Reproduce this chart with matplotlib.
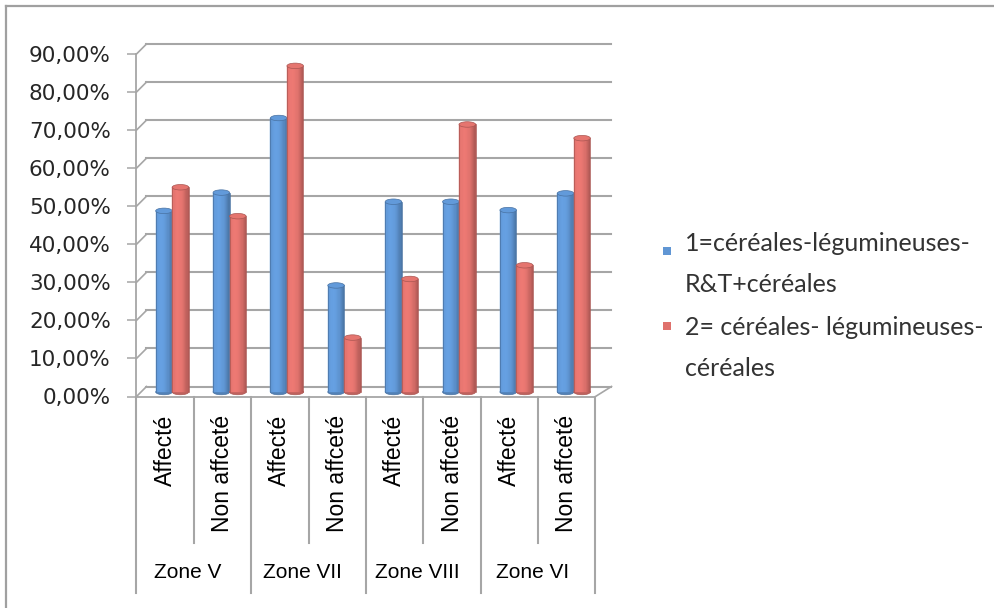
import numpy as np
import matplotlib.pyplot as plt
from matplotlib.patches import Ellipse, Rectangle
from matplotlib.lines import Line2D
from matplotlib.colors import to_rgb

# data
zones = ['Zone V', 'Zone VII', 'Zone VIII', 'Zone VI']
groups = ['Affecté', 'Non affceté']
serie1 = [47.6, 52.4, 72.0, 28.0, 50.0, 50.0, 47.8, 52.2]
serie2 = [53.8, 46.2, 85.7, 14.3, 29.7, 70.3, 33.3, 66.7]
legend_1 = ['1=céréales-légumineuses-', 'R&T+céréales']
legend_2 = ['2= céréales- légumineuses-', 'céréales']
yticks = list(range(0, 91, 10))

W, H = 995, 608
fig = plt.figure(figsize=(W / 100, H / 100), dpi=100)

# front plane of the plot area, in pixels
x0, x1, y0, y1 = 136.5, 595.5, 396.5, 54
ax = fig.add_axes([x0 / W, 1 - y0 / H, (x1 - x0) / W, (y0 - y1) / H])
ncat = len(serie1)
ax.set_xlim(0, ncat)
ax.set_ylim(0, 90)
PX_X = (x1 - x0) / ncat
PX_Y = (y0 - y1) / 90

grid_c = '#a6a6a6'
# 3d depth: back wall shifted right/up, slightly wider at right
DX, DY, K = 10, 10, 6 / (x1 - x0)


def back(x, y):
    return x * (1 + K) + DX / PX_X, y + DY / PX_Y


# back wall grid + side wall diagonals
for v in yticks:
    bx0, by = back(0, v)
    bx1, _ = back(ncat, v)
    ax.plot([bx0, bx1], [by, by], color=grid_c, lw=1.5, clip_on=False, zorder=1)
    ax.plot([0, bx0], [v, by], color=grid_c, lw=1.2, clip_on=False, zorder=1)
# floor right edge
bx1, by = back(ncat, 0)
ax.plot([ncat, bx1], [0, by], color=grid_c, lw=1.2, clip_on=False, zorder=1)

for s in ['top', 'right']:
    ax.spines[s].set_visible(False)
for s in ['left', 'bottom']:
    ax.spines[s].set_color(grid_c)
    ax.spines[s].set_linewidth(1.3)
ax.patch.set_alpha(0)

ax.set_yticks(yticks)
ax.set_yticklabels([f'{v},00%' for v in yticks])
ax.tick_params(axis='y', length=6.5, width=1.1, color=grid_c, pad=12,
               labelsize=15.5, labelcolor='#262626')
ax.set_xticks([])


def shade(base, f):
    r = np.array(to_rgb(base)) * f
    return tuple(np.clip(r, 0, 1))


BAR_DX, BAR_DY = 7, 4.5
bw = 16.5 / PX_X
eh = 5.5 / PX_Y
xoff = BAR_DX / PX_X
yoff = BAR_DY / PX_Y


def cylinder(xc, v, base):
    n = 14
    lefts = np.linspace(xc - bw / 2, xc + bw / 2, n + 1)[:-1]
    t = (np.arange(n) + 0.5) / n
    fac = 1.12 - 0.75 * (t - 0.35) ** 2
    dark = shade(base, 0.8)
    ax.add_patch(Ellipse((xc, yoff), bw, eh, fc=shade(base, 0.9), ec=dark, lw=0.5, zorder=3))
    for l, f in zip(lefts, fac):
        ax.bar(l, v, width=bw / n, bottom=yoff, align='edge', color=shade(base, f),
               ec=shade(base, f), lw=0.3, zorder=3)
    ax.plot([xc - bw / 2, xc - bw / 2], [yoff, yoff + v], color=dark, lw=0.5, zorder=3)
    ax.plot([xc + bw / 2, xc + bw / 2], [yoff, yoff + v], color=dark, lw=0.5, zorder=3)
    ax.add_patch(Ellipse((xc, yoff + v), bw, eh, fc=shade(base, 1.08), ec=dark, lw=0.5,
                         zorder=3, clip_on=False))


blue = '#5b8fca'
red = '#d46c67'
centers = np.arange(ncat) + 0.5
for c, v1, v2 in zip(centers, serie1, serie2):
    cylinder(c + xoff - bw / 2, v1, blue)
    cylinder(c + xoff + bw / 2, v2, red)

# category axis: separators and labels
xt = ax.get_xaxis_transform()
inner_y = -(543 - y0) / (y0 - y1)
outer_y = -(593 - y0) / (y0 - y1)
for i in range(ncat + 1):
    yb = outer_y if i % 2 == 0 else inner_y
    ax.plot([i, i], [0, yb], transform=xt, color=grid_c, lw=1.5, clip_on=False)
for i, c in enumerate(centers):
    ax.text(c, -(415 - y0) / (y0 - y1), groups[i % 2], transform=xt, rotation=90,
            rotation_mode='anchor', ha='right', va='center', fontsize=16.5,
            family='Liberation Sans', color='black')
for j, z in enumerate(zones):
    ax.text(2 * j + 1 - 0.1, -(573 - y0) / (y0 - y1), z, transform=xt, ha='center',
            va='center', fontsize=15, family='Liberation Sans', color='black')

# outer chart border (only top and left visible)
fig.add_artist(Line2D([6 / W, 6 / W], [0, 1 - 6 / H], color='#a0a0a0', lw=1.6))
fig.add_artist(Line2D([6 / W, 1], [1 - 6 / H, 1 - 6 / H], color='#a0a0a0', lw=1.6))


# legend
def px(x, y):
    return x / W, 1 - y / H


for sq_y, col, lines, base_y in [(247, blue, legend_1, 251), (322, red, legend_2, 335)]:
    sx, sy = px(663, sq_y + 8)
    fig.add_artist(Rectangle((sx, sy), 8 / W, 8 / H, transform=fig.transFigure,
                             fc=shade(col, 1.05), ec='none'))
    for k, line in enumerate(lines):
        tx, ty = px(685, base_y + k * 41)
        fig.text(tx, ty, line, ha='left', va='baseline', fontsize=18, family='Lato',
                 color='#333333')

fig.savefig('out.png', dpi=100)
